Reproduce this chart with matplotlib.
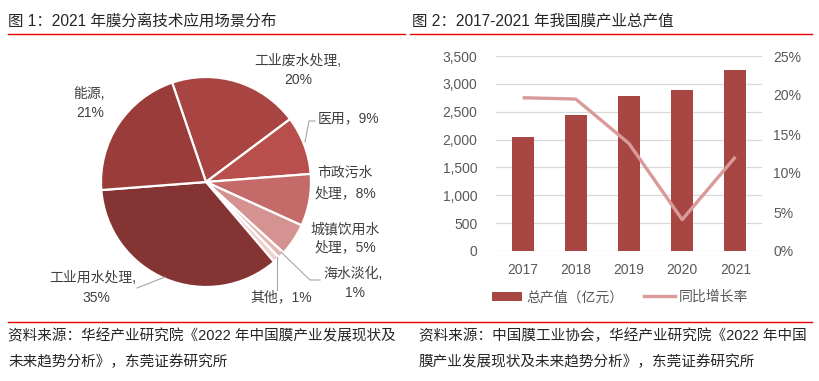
import matplotlib
matplotlib.use("Agg")
import matplotlib.pyplot as plt
from matplotlib.lines import Line2D
from matplotlib.patches import Patch
from matplotlib.ticker import FuncFormatter

plt.rcParams['font.family'] = ['Liberation Sans', 'Noto Sans CJK SC', 'DejaVu Sans']

# ---------------- data ----------------
pie_labels = ["工业废水处理", "医用", "市政污水处理", "城镇饮用水处理", "海水淡化", "其他", "工业用水处理", "能源"]
pie_values = [20, 9, 8, 5, 1, 1, 35, 21]
pie_colors = ["#A84543", "#B84F4C", "#C46B69", "#D49391", "#E2B5B3", "#EFD0CF", "#843432", "#993C3A"]

years = ["2017", "2018", "2019", "2020", "2021"]
output_value = [2044, 2445, 2780, 2895, 3242]          # 亿元
growth_rate = [0.1965, 0.1948, 0.1378, 0.0402, 0.1207]  # 同比增长率

W, H = 820, 381
fig = plt.figure(figsize=(W / 100, H / 100), dpi=100)


def fx(x):
    return x / W


def fy(y):
    return 1 - y / H


TXT = "#262626"
GREY = "#595959"
RED = "#E60000"

# ---------------- titles & rules ----------------
fig.text(fx(8), fy(21), "图 1：2021 年膜分离技术应用场景分布", fontsize=11.2, color=TXT, va="center", ha="left")
fig.text(fx(412), fy(21), "图 2：2017-2021 年我国膜产业总产值", fontsize=11.2, color=TXT, va="center", ha="left")
fig.add_artist(Line2D([fx(8), fx(405)], [fy(34), fy(34)], color=RED, lw=1.0, transform=fig.transFigure))
fig.add_artist(Line2D([fx(410), fx(812)], [fy(34), fy(34)], color=RED, lw=1.0, transform=fig.transFigure))
fig.add_artist(Line2D([fx(8), fx(812)], [fy(322), fy(322)], color=RED, lw=1.0, transform=fig.transFigure))

fig.text(fx(8), fy(336), "资料来源：华经产业研究院《2022 年中国膜产业发展现状及", fontsize=10.5, color=TXT, va="center")
fig.text(fx(8), fy(362), "未来趋势分析》，东莞证券研究所", fontsize=10.5, color=TXT, va="center")
fig.text(fx(419), fy(336), "资料来源：中国膜工业协会，华经产业研究院《2022 年中国", fontsize=10.5, color=TXT, va="center")
fig.text(fx(419), fy(362), "膜产业发展现状及未来趋势分析》，东莞证券研究所", fontsize=10.5, color=TXT, va="center")

# ---------------- pie ----------------
cx, cy, r = 206, 182, 105
axp = fig.add_axes([fx(cx - r), fy(cy + r), 2 * r / W, 2 * r / H])
axp.pie(pie_values, colors=pie_colors, startangle=108.8, counterclock=False,
        wedgeprops=dict(edgecolor="white", linewidth=1.6))
axp.set_xlim(-1, 1)
axp.set_ylim(-1, 1)
axp.set_aspect("equal")
axp.axis("off")

LBL = "#404040"
FS = 10
def lab(x, y, s, ha="center"):
    fig.text(fx(x), fy(y), s, fontsize=FS, color=LBL, ha=ha, va="center")

lab(298, 61, "工业废水处理,")
lab(298, 80, "20%")
lab(89, 94, "能源,")
lab(90, 113, "21%")
lab(318, 118, "医用，9%", ha="left")
lab(345, 173, "市政污水")
lab(345, 193, "处理，8%")
lab(345, 229, "城镇饮用水")
lab(345, 247, "处理，5%")
lab(353, 274, "海水淡化,")
lab(355, 293, "1%")
lab(281, 297, "其他，1%")
lab(93, 278, "工业用水处理,")
lab(96, 298, "35%")

LC = "#A6A6A6"
def leader(xs, ys):
    fig.add_artist(Line2D([fx(x) for x in xs], [fy(y) for y in ys], color=LC, lw=0.8,
                          transform=fig.transFigure))

leader([305, 309, 315], [142, 121, 121])
leader([281, 310, 320], [252, 280, 280])
leader([277, 277], [257, 290])
leader([165, 137], [277, 288])

# ---------------- bar + line ----------------
ax = fig.add_axes([fx(496), fy(251), 266 / W, 195 / H])
xpos = list(range(len(years)))
ax.bar(xpos, output_value, width=0.41, color="#A84644", zorder=3)
ax.set_xlim(-0.5, len(years) - 0.5)
ax.set_ylim(0, 3500)
ax.set_yticks(range(0, 3501, 500))
ax.yaxis.set_major_formatter(FuncFormatter(lambda v, p: f"{int(v):,}"))
ax.grid(axis="y", color="#D9D9D9", lw=0.9, zorder=0)
ax.set_xticks(xpos)
ax.set_xticklabels(years)
for s in ax.spines.values():
    s.set_visible(False)
ax.tick_params(axis="y", length=0, pad=13.5, labelsize=10, labelcolor=GREY)
ax.tick_params(axis="x", length=0, pad=8.5, labelsize=10, labelcolor=GREY)

ax2 = ax.twinx()
ax2.plot(xpos, growth_rate, color="#D99A99", lw=2.4, zorder=4, solid_capstyle="butt")
ax2.set_ylim(0, 0.25)
ax2.set_yticks([0, 0.05, 0.10, 0.15, 0.20, 0.25])
ax2.yaxis.set_major_formatter(FuncFormatter(lambda v, p: f"{round(v * 100):d}%"))
for s in ax2.spines.values():
    s.set_visible(False)
ax2.tick_params(axis="y", length=0, pad=8, labelsize=10, labelcolor=GREY)

handles = [Patch(facecolor="#A84644", edgecolor="none"),
           Line2D([0], [0], color="#D99A99", lw=2.4)]
fig.legend(handles, ["总产值（亿元）", "同比增长率"], loc="center",
           bbox_to_anchor=(fx(620), fy(297)), ncol=2, frameon=False,
           fontsize=10, labelcolor=GREY, handlelength=2.2, handletextpad=0.3,
           columnspacing=1.5, handleheight=0.6)

fig.savefig("out.png", dpi=100)
